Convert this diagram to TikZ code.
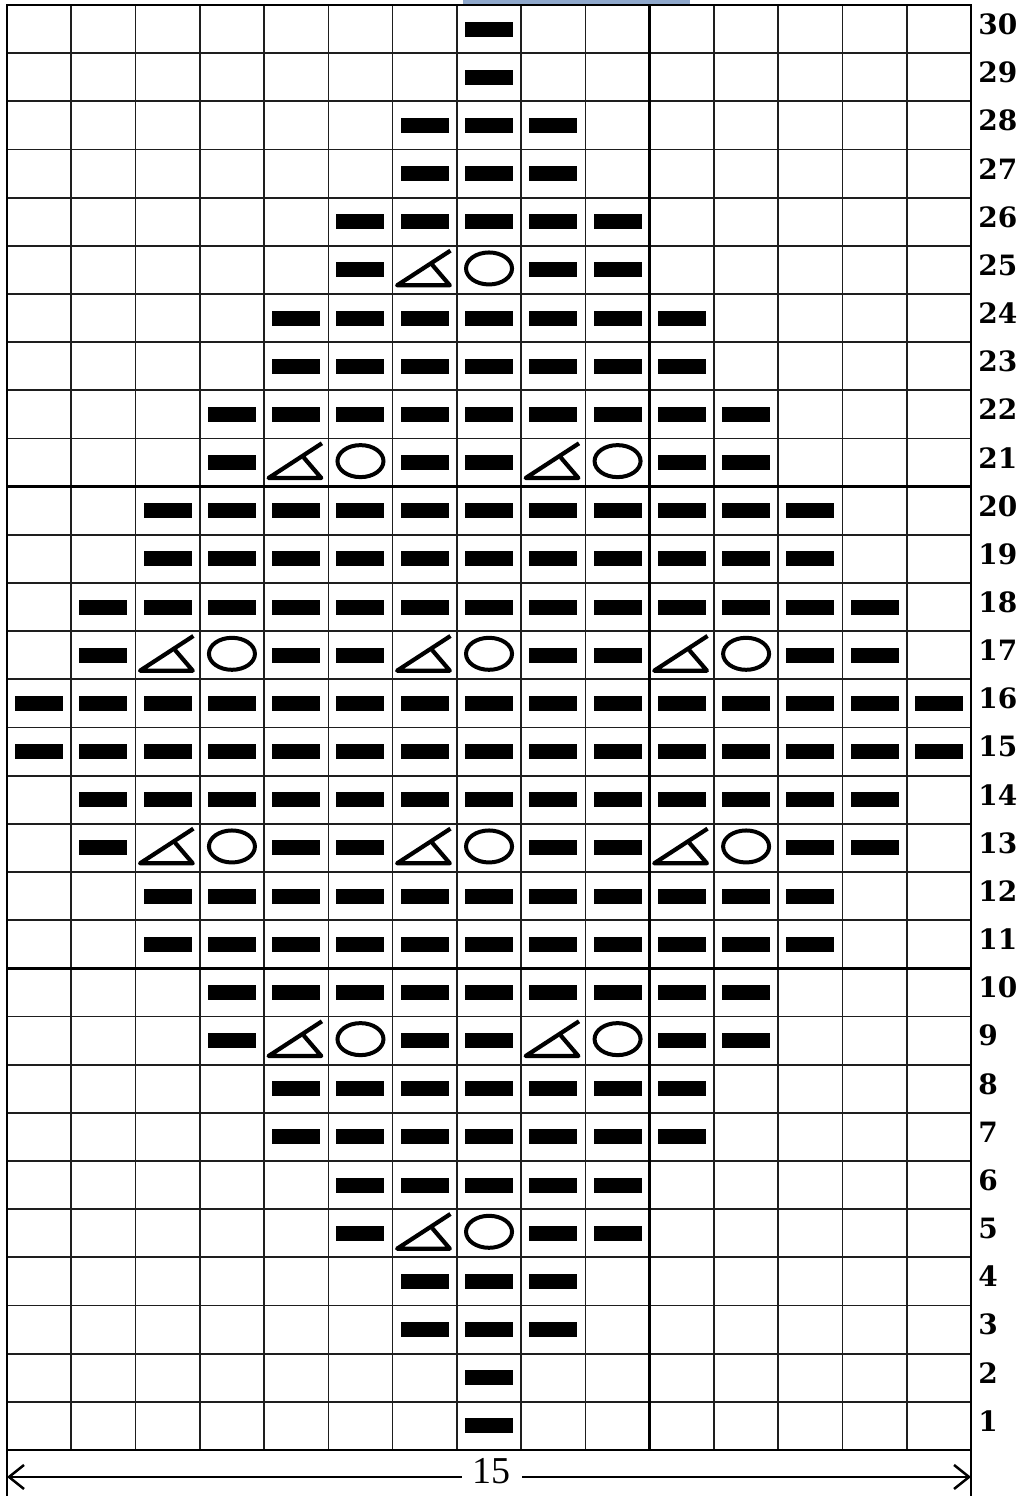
\documentclass[tikz,border=0pt]{standalone}
\usepackage{fontspec}
\setmainfont{DejaVu Serif}
\newfontfamily\dimfont{Liberation Serif}
\definecolor{gridgray}{HTML}{1E1E1E}
\definecolor{scanblue}{HTML}{8FA8CC}
\usetikzlibrary{arrows.meta,shapes.geometric}

\begin{document}
\begin{tikzpicture}[
  x=32.135pt, y=24.083pt,
  purl/.style={rectangle, fill=black, inner sep=0pt,
    minimum width=24pt, minimum height=7.5pt},
  yarnover/.style={ellipse, draw=black, line width=2pt, inner sep=0pt,
    minimum width=23pt, minimum height=16pt},
  dec/.style={draw=black, line width=2.1pt, line join=round},
  gridline/.style={gridgray, line width=0.85pt},
  heavy/.style={black, line width=1.5pt},
  rnum/.style={anchor=west, inner sep=0pt,
    font=\fontsize{14}{14}\selectfont\bfseries},
  dimarr/.style={{Straight Barb[length=7.5pt,width=12pt]}-{Straight Barb[length=7.5pt,width=12pt]},
    line width=1.25pt},
]
  \useasboundingbox (-0.1089,-0.955) rectangle (15.902,30.104);
  \fill[scanblue] (7.095,30.02) rectangle (10.627,30.104);

  % grid
  \foreach \c in {0,...,15}
    \draw[gridline] (\c,0) -- (\c,30);
  \foreach \r in {0,...,30}
    \draw[gridline] (0,\r) -- (15,\r);
  \draw[heavy] (0,10) -- (15,10) (0,20) -- (15,20) (10,0) -- (10,30);
  \draw[line width=1pt] (0,0) rectangle (15,30);

  % row numbers
  \foreach \r in {1,...,30}
    \node[rnum] (n\r) at (15.108,\r-0.4) {\r};

  % plain rows
  \foreach \r/\s in {30/8,29/8,28/7,27/7,26/6,24/5,23/5,22/4,20/3,19/3,
      18/2,16/1,15/1,14/2,12/3,11/3,10/4,8/5,7/5,6/6,4/7,3/7,2/8,1/8} {
    \pgfmathtruncatemacro\e{16-\s}
    \foreach \c in {\s,...,\e}
      \node[purl] (p-\r-\c) at (\c-0.5,\r-0.5) {};
  }

  % lace rows
  \foreach \r/\s in {25/6,21/4,17/2,13/2,9/4,5/6} {
    \pgfmathtruncatemacro\e{16-\s}
    \foreach \c in {\s,...,\e} {
      \pgfmathtruncatemacro\k{mod(\c-\s,4)}
      \ifcase\k\relax
        \node[purl] (p-\r-\c) at (\c-0.5,\r-0.5) {};
      \or
        \draw[dec] (\c-0.38,\r-0.4) -- (\c-0.11,\r-0.82)
          -- (\c-0.93,\r-0.82) -- (\c-0.1,\r-0.1);
      \or
        \node[yarnover] (o-\r-\c) at (\c-0.5,\r-0.47) {};
      \or
        \node[purl] (p-\r-\c) at (\c-0.5,\r-0.5) {};
      \fi
    }
  }

  % width
  \coordinate (el) at (0,-0.955);
  \coordinate (er) at (15,-0.955);
  \coordinate (dl) at (0,-0.56);
  \coordinate (dr) at (15,-0.56);
  \draw[line width=1.2pt] (0,0) -- (el) (15,0) -- (er);
  \draw[dimarr] (dl) -- node[pos=0.503, fill=white, inner xsep=5.5pt,
    inner ysep=1pt, yshift=3pt, font=\dimfont\fontsize{19}{19}\selectfont]
    (len) {15} (dr);
\end{tikzpicture}
\end{document}
